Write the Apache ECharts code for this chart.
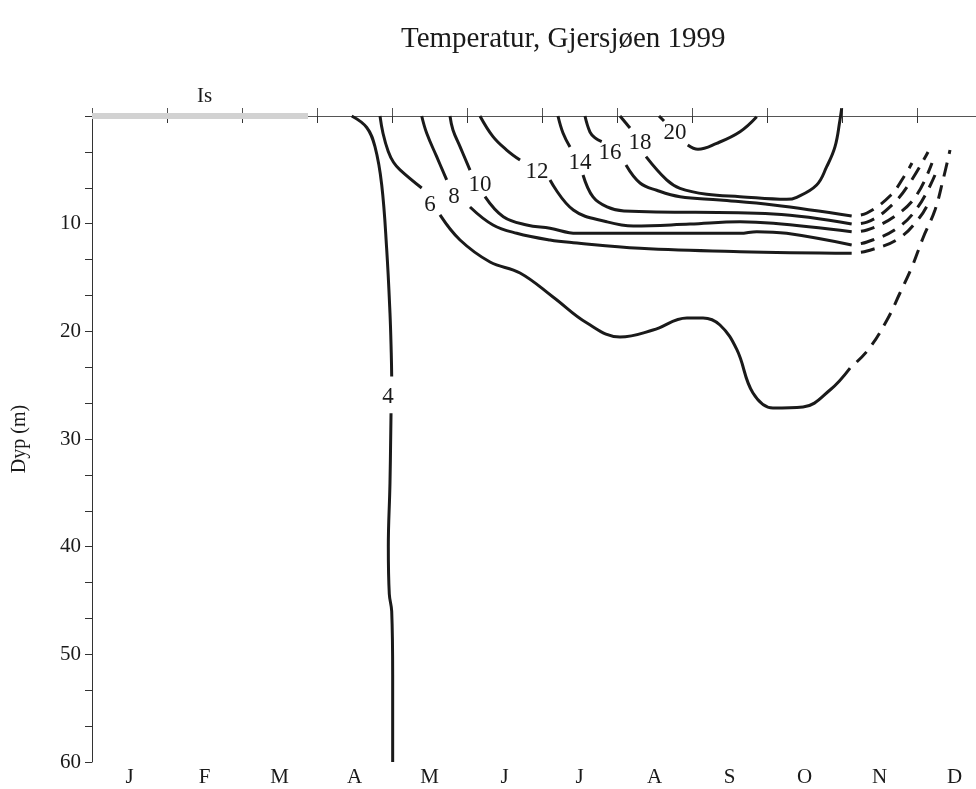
<!DOCTYPE html>
<html>
<head>
<meta charset="utf-8">
<script src="https://cdn.jsdelivr.net/npm/echarts@6/dist/echarts.min.js"></script>
<style>
html,body{margin:0;padding:0;background:#fff;}
#chart{width:976px;height:789px;}
</style>
</head>
<body>
<div id="chart"></div>
<script>
// ---- data: [month (0 = start of Jan), depth m] ----
const months = ['J','F','M','A','M','J','J','A','S','O','N','D'];
const iceExtent = [0, 2.88];          // ice cover, months
const iceLabel = [1.5, 0, 'Is'];

const iso4Top = [[3.463,0],[3.663,1.07],[3.773,2.85],[3.863,6.41],[3.929,12.35],[3.973,18.3],[3.99,22.0],[3.996,24.2]];
const iso4Bottom = [[3.987,27.6],[3.973,34.1],[3.951,40.0],[3.964,44.4],[3.996,46.0],[4.009,51.9],[4.009,60]];

const iso6Top = [[3.84,0],[3.88,1.6],[3.95,3.3],[4.02,4.3],[4.107,5.0],[4.396,6.69]];
const iso6Mid = [[4.64,9.19],[4.907,11.52],[5.307,13.56],[5.707,14.58],[6.147,16.81],[6.6,19.23],[7.04,20.53],[7.48,19.88],[7.933,18.76],[8.147,18.76],[8.373,19.41],[8.6,21.73],[8.813,25.73],[9.08,27.12],[9.48,27.03],[9.84,25.45],[10.107,23.41]];
const iso6Dash = [[10.107,23.41],[10.347,21.73],[10.6,18.95],[10.773,16.44],[10.933,14.02],[11.08,11.33],[11.24,8.73],[11.347,5.94],[11.44,3.16]];

const iso8Top = [[4.396,0],[4.463,1.61],[4.596,3.78],[4.729,5.94]];
const iso8Mid = [[5.04,8.45],[5.347,10.12],[5.663,10.89],[6.107,11.52],[6.417,11.77],[7.307,12.29],[8.64,12.6],[10.129,12.75]];
const iso8Dash = [[10.133,12.72],[10.333,12.54],[10.747,11.42],[11.04,9.38],[11.173,7.8]];

const iso10Top = [[4.773,0],[4.813,1.3],[4.907,2.85],[5.04,5.02]];
const iso10Mid = [[5.24,7.49],[5.484,9.35],[5.796,10.12],[6.107,10.43],[6.463,10.9],[7.5,10.9],[8.64,10.9],[8.863,10.74],[9.262,10.9],[10.129,11.98]];
const iso10Dash = [[10.133,11.98],[10.333,11.7],[10.72,10.5],[11.013,8.45],[11.24,5.48]];

const iso12Top = [[5.173,0],[5.347,1.92],[5.529,3.16],[5.707,4.09]];
const iso12Mid = [[6.107,5.94],[6.418,8.73],[6.862,9.82],[7.218,10.22],[7.973,10.03],[8.64,9.82],[9.084,9.97],[10.129,10.75]];
const iso12Dash = [[10.133,10.77],[10.333,10.59],[10.707,9.29],[10.987,7.43],[11.2,4.37]];

const iso14Top = [[6.213,0],[6.28,1.58],[6.373,2.88]];
const iso14Mid = [[6.547,5.48],[6.68,7.52],[6.867,8.45],[7.093,8.82],[9.084,9.1],[10.129,10.03]];
const iso14Dash = [[10.133,10.03],[10.333,9.85],[10.68,8.17],[10.92,6.04],[11.147,3.34]];

const iso16Top = [[6.573,0],[6.64,1.49],[6.707,2.04],[6.796,2.39]];
const iso16Mid = [[7.12,4.55],[7.307,6.22],[7.529,6.9],[7.84,7.5],[8.373,7.8],[9.084,8.27],[10.129,9.29]];
const iso16Dash = [[10.133,9.29],[10.333,9.01],[10.653,7.34],[10.84,5.48],[10.933,4.37]];

const iso18Top = [[7.04,0],[7.173,1.11]];
const iso18Mid = [[7.387,3.78],[7.662,5.94],[7.84,6.72],[8.196,7.27],[8.64,7.49],[9.262,7.74],[9.396,7.55],[9.662,6.41],[9.796,4.71],[9.907,2.85],[9.973,0.37],[9.996,-0.72]];

const iso20Top = [[7.56,0],[7.627,0.46]];
const iso20Mid = [[7.943,2.69],[8.08,3.09],[8.329,2.54],[8.64,1.46],[8.863,0.07]];

const contourLabels = [[3.947,26.1,4],[4.507,8.27,6],[4.827,7.52,8],[5.173,6.41,10],[5.933,5.2,12],[6.507,4.37,14],[6.907,3.44,16],[7.307,2.51,18],[7.773,1.58,20]];

const solidLines = [iso4Top, iso4Bottom, iso6Top, iso6Mid, iso8Top, iso8Mid, iso10Top, iso10Mid,
  iso12Top, iso12Mid, iso14Top, iso14Mid, iso16Top, iso16Mid, iso18Top, iso18Mid, iso20Top, iso20Mid];
const dashedLines = [iso6Dash, iso8Dash, iso10Dash, iso12Dash, iso14Dash, iso16Dash];

// ---- chart ----
const FONT = '"Liberation Serif", "Times New Roman", serif';
const INK = '#1a1a1a';
const AX = '#333';

const series = [];
solidLines.forEach(d => series.push({
  type: 'line', xAxisIndex: 2, data: d, smooth: 0.4, showSymbol: false, clip: false,
  lineStyle: { color: INK, width: 3 }, z: 3, silent: true
}));
dashedLines.forEach(d => series.push({
  type: 'line', xAxisIndex: 2, data: d, smooth: 0.4, showSymbol: false, clip: false,
  lineStyle: { color: INK, width: 3, type: [14, 9], dashOffset: 14 }, z: 3, silent: true
}));
series.push({
  type: 'line', xAxisIndex: 2, data: [[iceExtent[0], 0], [iceExtent[1], 0]],
  showSymbol: false, clip: false, lineStyle: { color: '#d2d2d2', width: 6, cap: 'butt' }, z: 5, silent: true
});
series.push({
  type: 'scatter', xAxisIndex: 2, data: [iceLabel], symbolSize: 1, clip: false,
  itemStyle: { color: 'rgba(0,0,0,0)', opacity: 1 }, silent: true,
  label: { show: true, position: 'top', distance: 9, formatter: p => p.value[2],
    fontFamily: FONT, fontSize: 21, color: INK }
});
series.push({
  type: 'scatter', xAxisIndex: 2, data: contourLabels, symbolSize: 1, clip: false,
  itemStyle: { color: 'rgba(0,0,0,0)', opacity: 1 }, silent: true, z: 6,
  label: { show: true, position: 'inside', formatter: p => String(p.value[2]),
    fontFamily: FONT, fontSize: 23, color: INK }
});

const chart = echarts.init(document.getElementById('chart'), null, { renderer: 'canvas' });
chart.setOption({
  animation: false,
  backgroundColor: '#fff',
  title: {
    text: 'Temperatur, Gjersjøen 1999', left: 396, top: 20,
    textStyle: { fontFamily: FONT, fontSize: 29, fontWeight: 'normal', color: INK }
  },
  grid: { left: 92, top: 116, right: -16, bottom: 27, containLabel: false, outerBoundsMode: 'none' },
  xAxis: [
    { type: 'category', data: months, position: 'bottom', boundaryGap: true,
      axisLine: { lineStyle: { color: AX, width: 1 } },
      axisTick: { show: true, length: 7, lineStyle: { color: AX } },
      axisLabel: { fontFamily: FONT, fontSize: 21, color: INK, margin: 5 },
      splitLine: { show: false } },
    { type: 'category', data: months, position: 'top', boundaryGap: true,
      axisLine: { lineStyle: { color: '#555', width: 1 } },
      axisTick: { show: true, length: 8, lineStyle: { color: '#555' } },
      axisLabel: { show: false }, splitLine: { show: false } },
    { type: 'value', min: 0, max: 12, show: false, splitLine: { show: false } }
  ],
  yAxis: {
    type: 'value', inverse: true, min: 0, max: 60, interval: 10,
    name: 'Dyp (m)', nameLocation: 'middle', nameGap: 62, nameRotate: 90,
    nameTextStyle: { fontFamily: FONT, fontSize: 20, color: INK },
    axisLine: { show: true, lineStyle: { color: AX, width: 1 } },
    axisTick: { show: true, length: 7, lineStyle: { color: AX } },
    minorTick: { show: true, splitNumber: 3, length: 7, lineStyle: { color: AX } },
    axisLabel: { fontFamily: FONT, fontSize: 21, color: INK, margin: 11,
      formatter: v => (v === 0 ? '' : String(v)) },
    splitLine: { show: false }, minorSplitLine: { show: false }
  },
  series: series
});
</script>
</body>
</html>
